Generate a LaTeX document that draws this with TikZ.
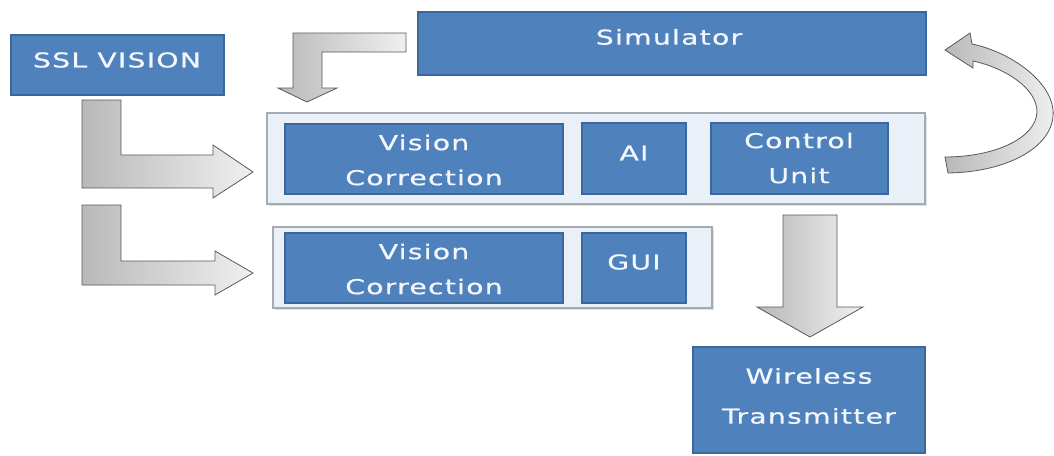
\documentclass[tikz,border=0pt]{standalone}
\usepackage{fontspec}
\newfontfamily\boxfont[FakeStretch=1.38,LetterSpace=6,FakeBold=0.7]{DejaVu Sans}
\usetikzlibrary{shadows}
\definecolor{boxblue}{HTML}{4F81BD}
\definecolor{boxedge}{HTML}{3A689C}
\definecolor{contfill}{HTML}{EAF0F8}
\definecolor{contedge}{HTML}{A5ABB3}
\begin{document}
\begin{tikzpicture}[x=1pt,y=-1pt,
  bluebox/.style={rectangle, draw=boxedge, line width=1.2pt, fill=boxblue, inner sep=0pt},
  container/.style={rectangle, draw=contedge, line width=1.2pt, fill=contfill, inner sep=0pt,
    drop shadow={shadow xshift=2pt, shadow yshift=-2pt, opacity=0.25}},
  lbl/.style={text=white!93!boxblue, font=\boxfont\fontsize{20.5}{35}\selectfont, align=center, inner sep=0pt},
  garrow/.style={draw=gray!70!black, line width=0.8pt, left color=gray!55, right color=gray!12, line join=miter}]
\useasboundingbox[fill=white] (0,0) rectangle (1054,455);

% containers
\node[container, minimum width=658, minimum height=91] (c1) at (596,158.5) {};
\node[container, minimum width=439, minimum height=81] (c2) at (492.5,267.5) {};

% blue boxes
\node[bluebox, minimum width=213, minimum height=60] (ssl) at (117.5,65) {};
\node[bluebox, minimum width=508, minimum height=63] (sim) at (672,43.5) {};
\node[bluebox, minimum width=278, minimum height=70] (vc1) at (424,159) {};
\node[bluebox, minimum width=104, minimum height=71] (ai) at (634,158.5) {};
\node[bluebox, minimum width=177, minimum height=71] (cu) at (799.5,158.5) {};
\node[bluebox, minimum width=278, minimum height=70] (vc2) at (424,268) {};
\node[bluebox, minimum width=104, minimum height=70] (gui) at (634,268) {};
\node[bluebox, minimum width=232, minimum height=106] (wt) at (809,400) {};

% labels
\node[lbl] (sslt) at (117,60) {SSL VISION};
\node[lbl] (simt) at (669,37) {Simulator};
\node[lbl] (vc1t) at (424,160) {Vision\\Correction};
\node[lbl] (ait) at (634,153) {AI};
\node[lbl] (cut) at (799,158) {Control\\Unit};
\node[lbl] (vc2t) at (424,269) {Vision\\Correction};
\node[lbl] (guit) at (634,262) {GUI};
\node[lbl, font=\boxfont\fontsize{20.5}{40}\selectfont] (wtt) at (809,396) {Wireless\\Transmitter};

% block arrows
% Simulator -> container 1
\path[garrow] (406,33) -- (293,33) -- (293,88) -- (278,88) -- (307,102) -- (337,88) -- (322,88) -- (322,52) -- (406,52) -- cycle;
% SSL VISION -> container 1
\path[garrow] (82,100) -- (82,188) -- (213,188) -- (213,198) -- (253,172) -- (213,145) -- (213,155) -- (121,155) -- (121,100) -- cycle;
% SSL VISION -> container 2
\path[garrow] (82,205) -- (82,285) -- (215,285) -- (215,295) -- (253,273) -- (215,251) -- (215,261) -- (121,261) -- (121,205) -- cycle;
% Control Unit -> Wireless Transmitter
\path[garrow] (783,215) -- (783,307) -- (757,307) -- (810,337) -- (863,307) -- (837,307) -- (837,215) -- cycle;
% feedback curved arrow
\path[garrow] (948,173) .. controls (1010,172) and (1056,145) .. (1053,110)
  .. controls (1050,80) and (1010,52) .. (972,44)
  -- (970,33) -- (945,50) -- (973,68) -- (973,61)
  .. controls (1005,68) and (1037,88) .. (1037,112)
  .. controls (1036,138) and (995,157) .. (945,157) -- cycle;
\end{tikzpicture}
\end{document}
